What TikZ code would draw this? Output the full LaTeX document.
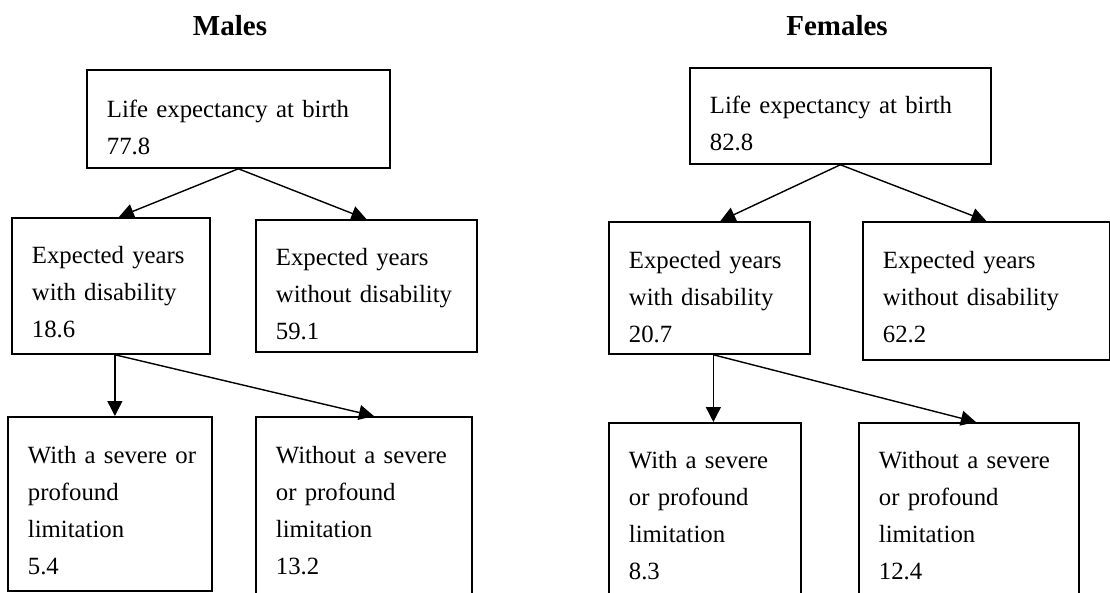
\documentclass[tikz,border=0pt]{standalone}
\usepackage{fontspec}
\setmainfont{Liberation Serif}
\usepackage{tikz}
\usetikzlibrary{arrows.meta}

\begin{document}
\begin{tikzpicture}[x=0.2mm, y=-0.2mm, every node/.style={font=\fontsize{14.1}{21}\selectfont}]
\tikzstyle{box}=[draw, line width=1pt, anchor=north west, inner xsep=4mm, inner ysep=0pt, align=left]
\tikzstyle{head}=[anchor=base, font=\fontsize{16.5}{18}\selectfont\bfseries]
\tikzstyle{arr}=[-{Triangle[length=3mm, width=3mm]}, line width=0.8pt]
\clip (0,0) rectangle (1110,592);
% males
\node[head] (mhead) at (230,35) {Males};
\node[box, text width=52.6mm, text height=9.6mm, text depth=10mm] (mtop) at (86,69) {Life expectancy at birth\\77.8};
\node[box, text width=31.6mm, text height=9.2mm, text depth=18mm] (mwith) at (11,217) {Expected years\\with disability\\18.6};
\node[box, text width=36.2mm, text height=9.2mm, text depth=17.2mm] (mwithout) at (255,219) {Expected years\\without disability\\59.1};
\node[box, text width=32.8mm, text height=9.4mm, text depth=25.4mm] (msev) at (7,416) {\mbox{With a severe or}\\profound\\limitation\\5.4};
\node[box, text width=35.2mm, text height=9.4mm, text depth=26.6mm] (mnosev) at (255,416) {Without a severe\\or profound\\limitation\\13.2};
% females
\node[head] (fhead) at (837,35) {Females};
\node[box, text width=52.2mm, text height=9.2mm, text depth=10mm] (ftop) at (689,67) {Life expectancy at birth\\82.8};
\node[box, text width=32.2mm, text height=9.4mm, text depth=17mm] (fwith) at (608,221) {Expected years\\with disability\\20.7};
\node[box, text width=41.4mm, text height=9.4mm, text depth=18.2mm] (fwithout) at (862,221) {Expected years\\without disability\\62.2};
\node[box, text width=30.4mm, text height=9.2mm, text depth=26mm] (fsev) at (608,422) {With a severe\\or profound\\limitation\\8.3};
\node[box, text width=36mm, text height=9.2mm, text depth=26mm] (fnosev) at (858,422) {Without a severe\\or profound\\limitation\\12.4};
% arrows
\draw[arr] (mtop.south) -- ([xshift=1.6mm]mwith.north);
\draw[arr] (mtop.south) -- (mwithout.north);
\draw[arr] ([xshift=0.8mm]mwith.south) -- ([xshift=0.8mm]mwith.south |- msev.north);
\draw[arr] ([xshift=0.8mm]mwith.south) -- ([xshift=2mm]mnosev.north);
\draw[arr] (ftop.south) -- ([xshift=2.2mm]fwith.north);
\draw[arr] (ftop.south) -- (fwithout.north);
\draw[arr] ([xshift=0.8mm]fwith.south) -- ([xshift=0.8mm]fwith.south |- fsev.north);
\draw[arr] ([xshift=0.8mm]fwith.south) -- ([xshift=1.4mm]fnosev.north);
\end{tikzpicture}
\end{document}
